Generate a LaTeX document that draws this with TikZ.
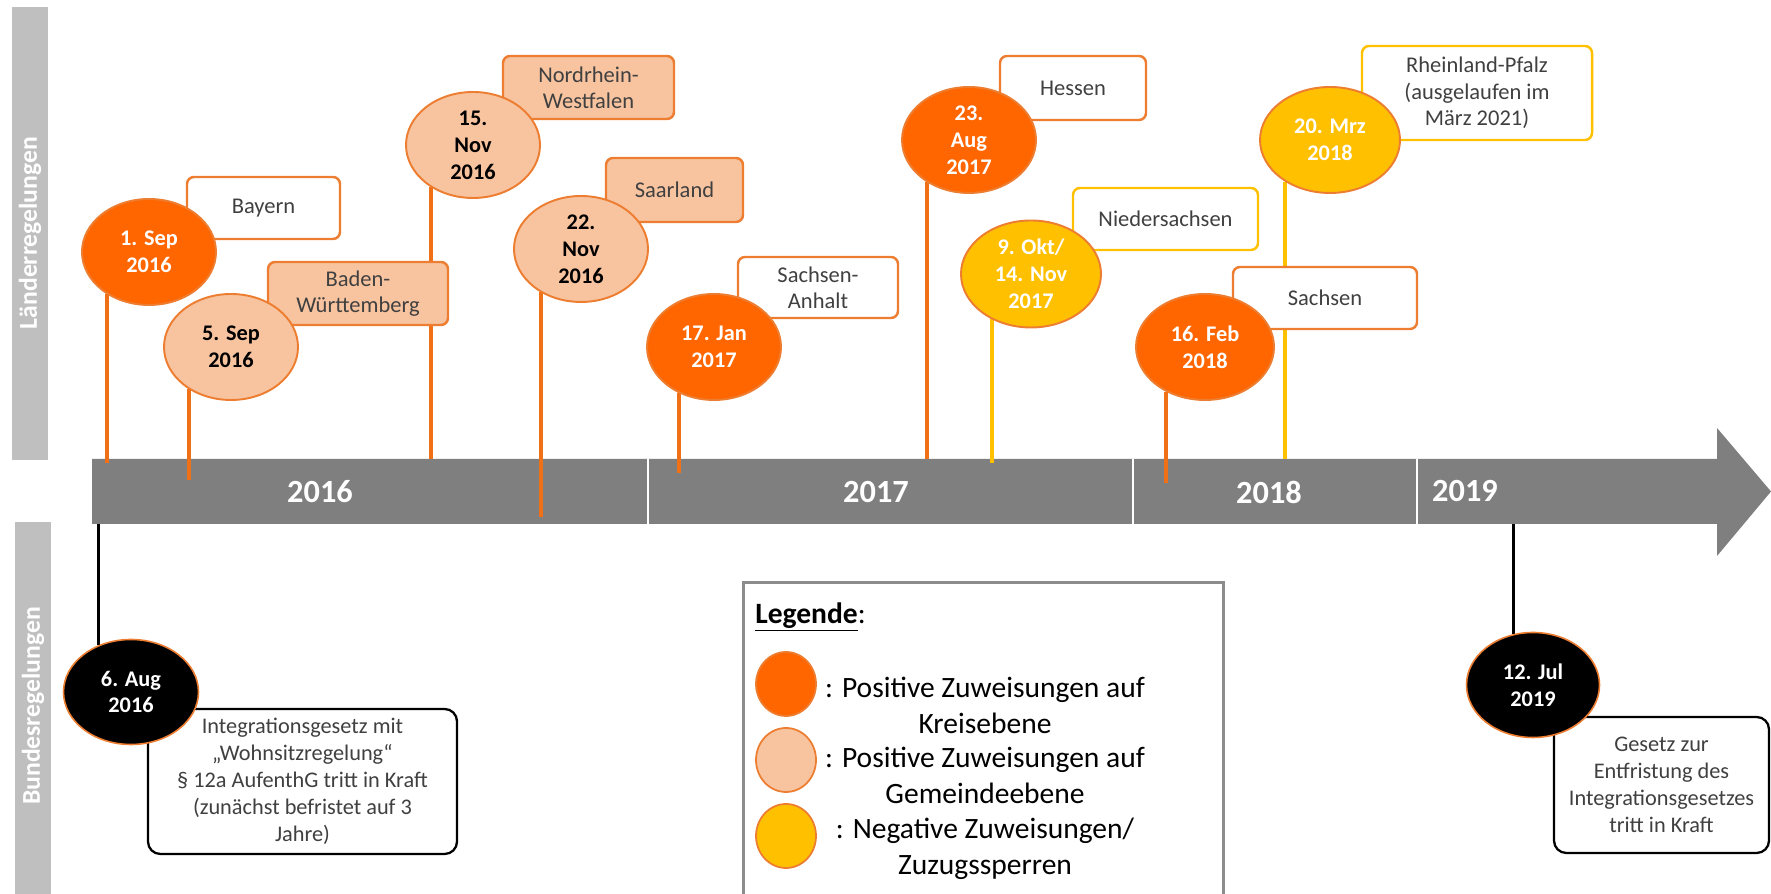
\documentclass[tikz,border=0pt]{standalone}
\usepackage{fontspec}
\setmainfont{Carlito}
\usetikzlibrary{shapes.geometric}
\definecolor{TlDark}{RGB}{255,102,0}
\definecolor{TlPeach}{RGB}{248,196,160}
\definecolor{TlYellow}{RGB}{255,192,0}
\definecolor{TlLine}{RGB}{237,125,49}
\definecolor{TlStem}{RGB}{240,112,24}
\definecolor{TlBar}{RGB}{127,127,127}
\definecolor{TlBand}{RGB}{191,191,191}
\definecolor{TlText}{RGB}{64,64,64}
\definecolor{TlFrame}{RGB}{140,140,140}
\pgfdeclarelayer{bar}
\pgfdeclarelayer{stems}
\pgfsetlayers{bar,stems,main}
\tikzset{
  tl/date/.style={
    ellipse,
    draw=TlLine,
    line width=1.1pt,
    inner sep=0pt,
    minimum width=2.68cm,
    minimum height=2.12cm,
    align=center,
    font=\bfseries\fontsize{12.7}{15.3}\selectfont
  },
  tl/kreis/.style={tl/date, fill=TlDark, text=white},
  tl/gemeinde/.style={tl/date, fill=TlPeach, text=black},
  tl/sperre/.style={tl/date, fill=TlYellow, text=white},
  tl/bund/.style={tl/date, fill=black, text=white, line width=0.9pt},
  tl/land/.style={
    draw=TlLine,
    line width=1.4pt,
    rounded corners=4pt,
    fill=white,
    align=center,
    text=TlText,
    inner sep=0pt,
    font=\fontsize{12.8}{15}\selectfont
  },
  tl/landsoft/.style={tl/land, fill=TlPeach},
  tl/landneg/.style={tl/land, draw=TlYellow},
  tl/law/.style={
    draw=black,
    line width=1.3pt,
    rounded corners=7pt,
    fill=white,
    align=center,
    text=TlText,
    inner sep=0pt,
    font=\fontsize{12.7}{15.3}\selectfont
  },
  tl/stem/.style={line width=2.3pt, draw=TlStem},
  tl/negstem/.style={line width=2.3pt, draw=TlYellow},
  tl/fedstem/.style={line width=1.8pt, draw=black},
  tl/yearsep/.style={line width=1.2pt, draw=white},
  tl/year/.style={text=white, font=\bfseries\fontsize{18.4}{22}\selectfont},
  tl/band/.style={fill=TlBand},
  tl/bandlabel/.style={text=white, rotate=90, font=\bfseries\fontsize{14.6}{17}\selectfont},
  tl/frame/.style={draw=TlFrame, line width=1.7pt},
  tl/swatch/.style={ellipse, draw=TlLine, line width=1pt, minimum width=1.2cm, minimum height=1.28cm, inner sep=0pt},
  tl/legend/.style={align=center, inner sep=0pt, font=\fontsize{16.8}{20.4}\selectfont}
}

\begin{document}
\begin{tikzpicture}[x=1cm,y=1cm]
  \useasboundingbox (0,0) rectangle (35.42,17.88);

  % side bands
  \fill[tl/band] (0.24,8.68) rectangle (0.96,17.74);
  \fill[tl/band] (0.30,0) rectangle (1.02,7.44);
  \node[tl/bandlabel] (laender) at (0.60,13.22) {Länderregelungen};
  \node[tl/bandlabel] (bund) at (0.66,3.76) {Bundesregelungen};

  % timeline arrow
  \begin{pgfonlayer}{bar}
    \fill[TlBar] (1.84,8.70) -- (34.34,8.70) -- (34.34,9.32) -- (35.42,8.05)
      -- (34.34,6.76) -- (34.34,7.40) -- (1.84,7.40) -- cycle;
    \foreach \x in {12.96,22.66,28.34}
      \draw[tl/yearsep] (\x,8.70) -- (\x,7.40);
  \end{pgfonlayer}
  \coordinate (bartop) at (0,8.70);
  \coordinate (barbot) at (0,7.40);
  \node[tl/year] (y2016) at (6.40,8.04) {2016};
  \node[tl/year] (y2017) at (17.52,8.04) {2017};
  \node[tl/year] (y2018) at (25.38,8.04) {2018};
  \node[tl/year] (y2019) at (29.30,8.06) {2019};

  % Laender
  \node[tl/land,minimum width=3.06cm,minimum height=1.24cm] (bayern) at (5.27,13.72) {Bayern};
  \node[tl/landsoft,minimum width=3.6cm,minimum height=1.26cm] (bw) at (7.16,12.01) {Baden-\\Württemberg};
  \node[tl/landsoft,minimum width=3.42cm,minimum height=1.26cm] (nrw) at (11.77,16.13) {Nordrhein-\\Westfalen};
  \node[tl/landsoft,minimum width=2.74cm,minimum height=1.28cm] (saar) at (13.49,14.08) {Saarland};
  \node[tl/land,minimum width=3.2cm,minimum height=1.22cm] (sa) at (16.36,12.13) {Sachsen-\\Anhalt};
  \node[tl/land,minimum width=2.92cm,minimum height=1.28cm] (hessen) at (21.46,16.12) {Hessen};
  \node[tl/landneg,minimum width=3.7cm,minimum height=1.24cm] (nds) at (23.31,13.50) {Niedersachsen};
  \node[tl/land,minimum width=3.68cm,minimum height=1.24cm] (sachsen) at (26.50,11.92) {Sachsen};
  \node[tl/landneg,minimum width=4.6cm,minimum height=1.88cm] (rp) at (29.54,16.02) {Rheinland-Pfalz\\(ausgelaufen im\\März 2021)};

  \node[tl/kreis] (sep1) at (2.98,12.84) {1. Sep\\2016};
  \node[tl/gemeinde] (sep5) at (4.62,10.94) {5. Sep\\2016};
  \node[tl/gemeinde] (nov15) at (9.46,14.98) {15.\\Nov\\2016};
  \node[tl/gemeinde] (nov22) at (11.62,12.90) {22.\\Nov\\2016};
  \node[tl/kreis] (jan17) at (14.28,10.94) {17. Jan\\2017};
  \node[tl/kreis] (aug23) at (19.38,15.08) {23.\\Aug\\2017};
  \node[tl/sperre,minimum width=2.8cm,minimum height=2.14cm] (okt9) at (20.62,12.40) {9. Okt/\\14. Nov\\2017};
  \node[tl/kreis,minimum width=2.76cm] (feb16) at (24.10,10.94) {16. Feb\\2018};
  \node[tl/sperre,minimum width=2.8cm] (mrz20) at (26.60,15.08) {20. Mrz\\2018};

  % Bund
  \node[tl/law,minimum width=6.18cm,minimum height=2.9cm] (integ) at (6.05,2.25)
    {Integrationsgesetz mit\\„Wohnsitzregelung“\\§ 12a AufenthG tritt in Kraft\\(zunächst befristet auf 3\\Jahre)};
  \node[tl/law,minimum width=4.3cm,minimum height=2.72cm] (entfr) at (33.23,2.18)
    {Gesetz zur\\Entfristung des\\Integrationsgesetzes\\tritt in Kraft};
  \node[tl/bund,minimum width=2.7cm,minimum height=2.1cm] (aug6) at (2.62,4.04) {6. Aug\\2016};
  \node[tl/bund,minimum width=2.66cm,minimum height=2.1cm] (jul12) at (30.66,4.18) {12. Jul\\2019};

  % stems down to the bar
  \begin{pgfonlayer}{stems}
    \foreach \ev/\ang/\ey in {sep1/225/8.62, sep5/225/8.28, nov15/225/8.70, nov22/227/7.54,
                              jan17/233/8.42, aug23/225/8.70, feb16/229/8.22}{
      \coordinate (\ev-end) at (0,\ey);
      \draw[tl/stem] (\ev.\ang) -- (\ev.\ang |- \ev-end);
    }
    \foreach \ev/\ang/\ey in {okt9/229/8.62, mrz20/223/8.70}{
      \coordinate (\ev-end) at (0,\ey);
      \draw[tl/negstem] (\ev.\ang) -- (\ev.\ang |- \ev-end);
    }
    \draw[tl/fedstem] (aug6.125) -- (aug6.125 |- barbot);
    \draw[tl/fedstem] (jul12.111) -- (jul12.111 |- barbot);
  \end{pgfonlayer}

  % legend
  \draw[tl/frame] (14.86,-0.3) -- (14.86,6.22) -- (24.46,6.22) -- (24.46,-0.3);
  \node[tl/legend,anchor=west] (legtitle) at (15.10,5.54) {\underline{\textbf{Legende}}:};
  \node[tl/swatch,fill=TlDark] (swkreis) at (15.72,4.20) {};
  \node[tl/swatch,fill=TlPeach] (swgem) at (15.72,2.68) {};
  \node[tl/swatch,fill=TlYellow] (swneg) at (15.72,1.16) {};
  \node[tl/legend] (txkreis) at (19.70,3.78) {: Positive Zuweisungen auf\\Kreisebene};
  \node[tl/legend] (txgem) at (19.70,2.38) {: Positive Zuweisungen auf\\Gemeindeebene};
  \node[tl/legend] (txneg) at (19.70,0.91) {: Negative Zuweisungen/\\Zuzugssperren};
\end{tikzpicture}
\end{document}
